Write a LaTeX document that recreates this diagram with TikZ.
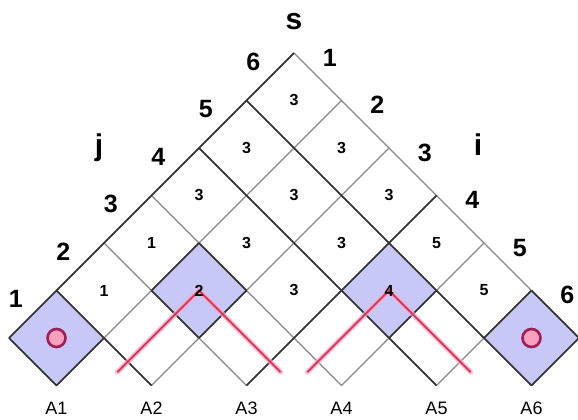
\documentclass[tikz,border=0pt]{standalone}
\usepackage{fontspec}
\setmainfont{Liberation Sans}
\definecolor{cellblue}{RGB}{200,200,248}
\definecolor{gridgray}{RGB}{135,135,135}
\definecolor{griddark}{RGB}{50,50,50}
\definecolor{redline}{RGB}{215,55,95}
\definecolor{redglow}{RGB}{250,170,195}
\definecolor{ringc}{RGB}{160,30,85}
\definecolor{ringfill}{RGB}{250,160,190}
\begin{document}
\begin{tikzpicture}[x=1pt,y=-1pt,
  lite/.style={draw=gridgray, line width=1.2pt},
  dark/.style={draw=griddark, line width=1.6pt, line join=round},
  bluecell/.style={fill=cellblue},
  outlbl/.style={font=\fontsize{25}{25}\selectfont\bfseries, inner sep=0pt},
  letlbl/.style={font=\fontsize{30}{30}\selectfont\bfseries, inner sep=0pt},
  cellbl/.style={font=\fontsize{16}{16}\selectfont\bfseries, inner sep=0pt},
  albl/.style={font=\fontsize{18}{18}\selectfont, inner sep=0pt},
  ring/.style={circle, draw=ringc, line width=2.6pt, fill=ringfill, minimum size=18pt, inner sep=0pt},
  glow/.style={draw=redglow, line width=5pt, opacity=0.7, line cap=round},
  chev/.style={draw=redline, line width=1.8pt}]
\useasboundingbox (0,0) rectangle (578,420);
% lattice points
\foreach \a in {0,...,6}{
  \foreach \b in {0,...,6}{
    \coordinate (p\a\b) at ({294+47.5*(\b-\a)},{53+47.5*(\a+\b)});
    \coordinate (k\a\b) at ({294+47.5*(\b-\a)},{53+47.5*(\a+\b+1)});
  }
}
% blue cells
\fill[bluecell] (p50)--(p60)--(p61)--(p51)--cycle;
\fill[bluecell] (p05)--(p15)--(p16)--(p06)--cycle;
\fill[bluecell] (p31)--(p41)--(p42)--(p32)--cycle;
\fill[bluecell] (p13)--(p23)--(p24)--(p14)--cycle;
% light grid
\foreach \k/\e in {0/6,1/6,2/5,3/4,4/3,5/2,6/1}{
  \draw[lite] (p\k0) -- (p\k\e);
  \draw[lite] (p0\k) -- (p\e\k);
}
% dark lines
\draw[dark] (p00) -- (p60);
\draw[dark] (p10) -- (p16);
\draw[dark] (p20) -- (p25);
\draw[dark] (p03) -- (p43);
\draw[dark] (p50) -- (p51) -- (p61) -- (p60);
\draw[dark] (p51) -- (p52);
\draw[dark] (p05) -- (p15);
\draw[dark] (p05) -- (p06) -- (p16);
\draw[dark] (p31) -- (p41) -- (p42) -- (p32) -- cycle;
\draw[dark] (p14) -- (p24);
% red chevrons
\coordinate (r1a) at (117.3,372.2);
\coordinate (r1b) at (280.7,372.2);
\coordinate (r2a) at (307.3,372.2);
\coordinate (r2b) at (470.7,372.2);
\draw[glow] (r1a) -- (k31) -- (r1b);
\draw[glow] (r2a) -- (k13) -- (r2b);
\draw[chev] (r1a) -- (k31) -- (r1b);
\draw[chev] (r2a) -- (k13) -- (r2b);
% rings
\node[ring] (o1) at (k50) {};
\node[ring] (o6) at (k05) {};
% cell labels
\foreach \i/\j/\t in {4/0/1,3/1/2,2/2/3,1/3/4,0/4/5,
                      3/0/1,2/1/3,1/2/3,0/3/5,
                      2/0/3,1/1/3,0/2/3,
                      1/0/3,0/1/3,
                      0/0/3}{
  \node[cellbl] (c\i\j) at (k\i\j) {\t};
}
% edge labels
\foreach \n in {1,...,6}{
  \node[outlbl] (jl\n) at ({294-47.5*(6.5-\n)-17},{53+47.5*(6.5-\n)-15}) {\n};
  \node[outlbl] (il\n) at ({294+47.5*(\n-0.5)+12},{53+47.5*(\n-0.5)-19}) {\n};
}
\node[letlbl] (s) at (294,22) {s};
\node[letlbl] (j) at (99,148) {j};
\node[letlbl] (i) at (478,145) {i};
% bottom labels
\foreach \n in {1,...,6}{
  \node[albl] (A\n) at ({294+47.5*(2*\n-7)},408) {A\n};
}
\end{tikzpicture}
\end{document}
